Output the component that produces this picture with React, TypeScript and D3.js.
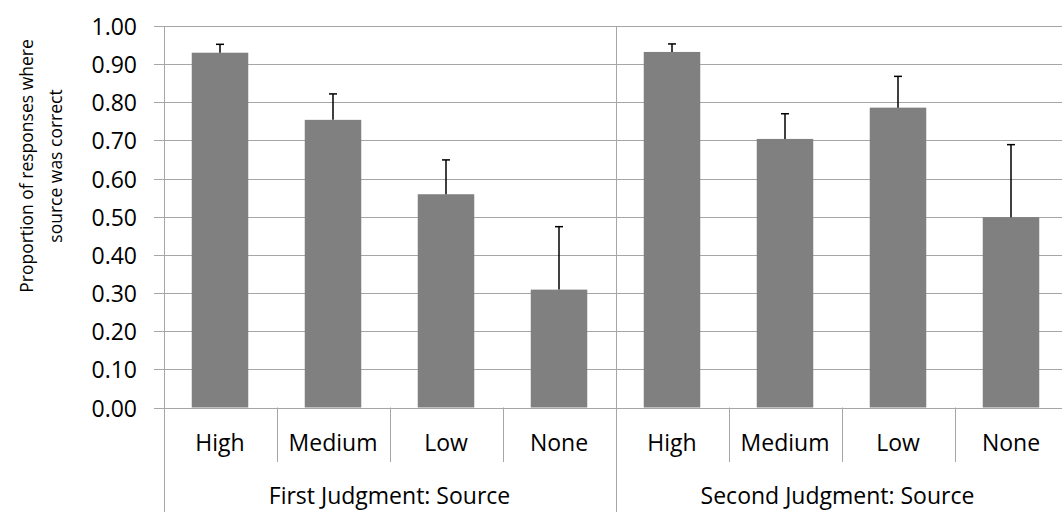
import React from "react";
import * as d3 from "d3";

const groups = ["First Judgment: Source", "Second Judgment: Source"];
const categories = ["High", "Medium", "Low", "None"];
const firstMeans = [0.93, 0.754, 0.559, 0.309];
const firstErrors = [0.022, 0.068, 0.09, 0.165];
const secondMeans = [0.932, 0.704, 0.786, 0.499];
const secondErrors = [0.021, 0.066, 0.082, 0.19];
const yTicks = [0, 0.1, 0.2, 0.3, 0.4, 0.5, 0.6, 0.7, 0.8, 0.9, 1.0];
const yTitle = ["Proportion of responses where", "source was correct"];

const W = 1062;
const H = 512;
const FONT = "'Open Sans', sans-serif";

export default function App() {
  const rows = [
    ...categories.map((c, i) => ({ g: 0, c, key: `0-${c}`, v: firstMeans[i], e: firstErrors[i] })),
    ...categories.map((c, i) => ({ g: 1, c, key: `1-${c}`, v: secondMeans[i], e: secondErrors[i] })),
  ];
  const x0 = 163.5;
  const step = 113;
  const x = d3
    .scaleBand<string>()
    .domain(rows.map((r) => r.key))
    .range([x0, x0 + step * rows.length])
    .paddingInner(0.5)
    .paddingOuter(0.25);
  const y = d3.scaleLinear().domain([0, 1]).range([407.5, 26]);
  const grid = "#a6a6a6";
  const fmt = d3.format(".2f");
  const groupW = step * categories.length;
  const fs = 23;

  return (
    <svg
      width={W}
      height={H}
      style={{ position: "fixed", left: 0, top: 0, background: "#fff" }}
      fontFamily={FONT}
    >
      <rect x={0} y={0} width={W} height={H} fill="#fff" />
      {yTicks.map((t) => (
        <g key={t}>
          <line x1={154} x2={W} y1={Math.round(y(t)) + 0.5} y2={Math.round(y(t)) + 0.5} stroke={grid} strokeWidth={1} />
          <text
            x={137}
            y={y(t)}
            textAnchor="end"
            dominantBaseline="central"
            fontSize={fs}
            fill="#000"
          >
            {fmt(t)}
          </text>
        </g>
      ))}
      {[0, 1, 2].map((gi) => (
        <line
          key={"gd" + gi}
          x1={Math.round(x0 + gi * groupW) + 0.5}
          x2={Math.round(x0 + gi * groupW) + 0.5}
          y1={y(1)}
          y2={H}
          stroke={grid}
          strokeWidth={1}
        />
      ))}
      {rows.map((r, i) =>
        i % categories.length === 0 ? null : (
          <line
            key={"sep" + r.key}
            x1={Math.round(x0 + i * step) + 0.5}
            x2={Math.round(x0 + i * step) + 0.5}
            y1={y(0)}
            y2={462}
            stroke={grid}
          />
        )
      )}
      {rows.map((r) => (
        <rect
          key={"b" + r.key}
          x={x(r.key)}
          y={y(r.v)}
          width={x.bandwidth()}
          height={y(0) - y(r.v)}
          fill="#808080"
        />
      ))}
      {rows.map((r) => {
        const cx = (x(r.key) as number) + x.bandwidth() / 2;
        return (
          <g key={"e" + r.key} stroke="#000" strokeWidth={1.5}>
            <line x1={cx} x2={cx} y1={y(r.v)} y2={y(r.v + r.e)} />
            <line x1={cx - 4} x2={cx + 4} y1={y(r.v + r.e)} y2={y(r.v + r.e)} />
          </g>
        );
      })}
      {rows.map((r) => (
        <text
          key={"l" + r.key}
          x={(x(r.key) as number) + x.bandwidth() / 2}
          y={451}
          textAnchor="middle"
          fontSize={fs}
          fill="#000"
        >
          {r.c}
        </text>
      ))}
      {groups.map((g, gi) => (
        <text
          key={"g" + g}
          x={x0 + gi * groupW + groupW / 2 - gi * 4}
          y={504}
          textAnchor="middle"
          fontSize={fs}
          fill="#000"
        >
          {g}
        </text>
      ))}
      <g transform="translate(0,166) rotate(-90)">
        <text x={0} y={33} textAnchor="middle" fontSize={17.5} fill="#000">
          {yTitle[0]}
        </text>
        <text x={0} y={62} textAnchor="middle" fontSize={17.5} fill="#000">
          {yTitle[1]}
        </text>
      </g>
    </svg>
  );
}
